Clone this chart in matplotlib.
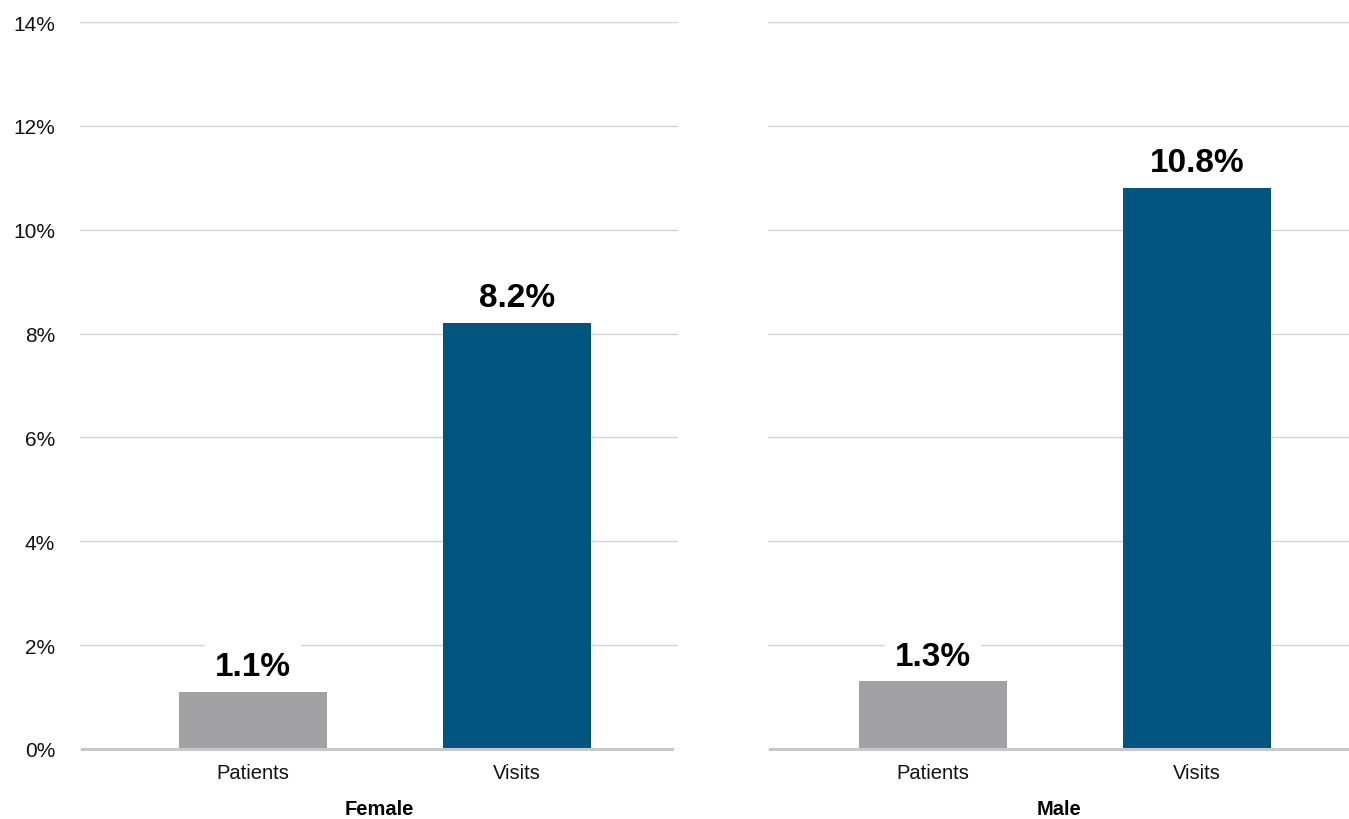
"""Share of patients and visits, by sex
"""
import matplotlib
matplotlib.use("Agg")
import matplotlib.pyplot as plt

categories = ["Patients", "Visits"]
panels = ["Female", "Male"]
female_values = [1.1, 8.2]
male_values = [1.3, 10.8]
bar_colors = ["#a2a2a4", "#02557f"]
y_ticks = [0, 2, 4, 6, 8, 10, 12, 14]

plt.rcParams['font.family'] = ['Liberation Sans', 'DejaVu Sans']

W, H = 1349, 820
fig = plt.figure(figsize=(W / 100, H / 100), dpi=100)

# axes boxes in pixels (left, right), bottom/top shared
ax_boxes = [(80, 678, -0.655, 1.610), (768, 1349, -0.625, 1.576)]
y_bottom, y_top = 750, 23

for i, (panel, values) in enumerate(zip(panels, [female_values, male_values])):
    left, right, x0, x1 = ax_boxes[i]
    ax = fig.add_axes([left / W, 1 - y_bottom / H, (right - left) / W, (y_bottom - y_top) / H])

    ax.bar(range(len(categories)), values, width=0.56, color=bar_colors, zorder=5)

    ax.set_xlim(x0, x1)
    ax.set_ylim(0, 14)
    ax.set_yticks(y_ticks)
    ax.yaxis.grid(True, color="#d4d4d4", linewidth=1.0, zorder=0)
    ax.set_axisbelow(True)

    for side in ["top", "right", "left"]:
        ax.spines[side].set_visible(False)
    ax.spines["bottom"].set_color("#c8c8c8")
    ax.spines["bottom"].set_linewidth(2.2)
    ax.spines["bottom"].set_zorder(6)
    if i == 0:
        ax.spines["bottom"].set_bounds(x0 + 2 / 264, x1 - 6 / 264)
    else:
        ax.spines["bottom"].set_bounds(x0 + 2 / 264, x1)

    ax.set_xticks(range(len(categories)))
    ax.set_xticklabels(categories, fontsize=14.5, color="#111111")
    ax.tick_params(axis="x", length=0, pad=10)

    if i == 0:
        ax.set_yticklabels(["{}%".format(t) for t in y_ticks], fontsize=15, color="#111111")
        ax.tick_params(axis="y", length=0, pad=18)
    else:
        ax.tick_params(axis="y", length=0, labelleft=False)

    ax.set_xlabel(panel, fontsize=14.5, fontweight="bold", labelpad=12)

    # value labels, white box hides the gridline behind (bars drawn on top)
    for j, v in enumerate(values):
        ax.annotate(
            "{:.1f}%".format(v),
            xy=(j, v),
            xytext=(0, 7),
            textcoords="offset points",
            ha="center",
            va="bottom",
            fontsize=24,
            fontweight="bold",
            bbox=dict(boxstyle="square,pad=0.3", facecolor="white", edgecolor="none"),
            zorder=4)

plt.savefig("out.png", dpi=100)
plt.close()
